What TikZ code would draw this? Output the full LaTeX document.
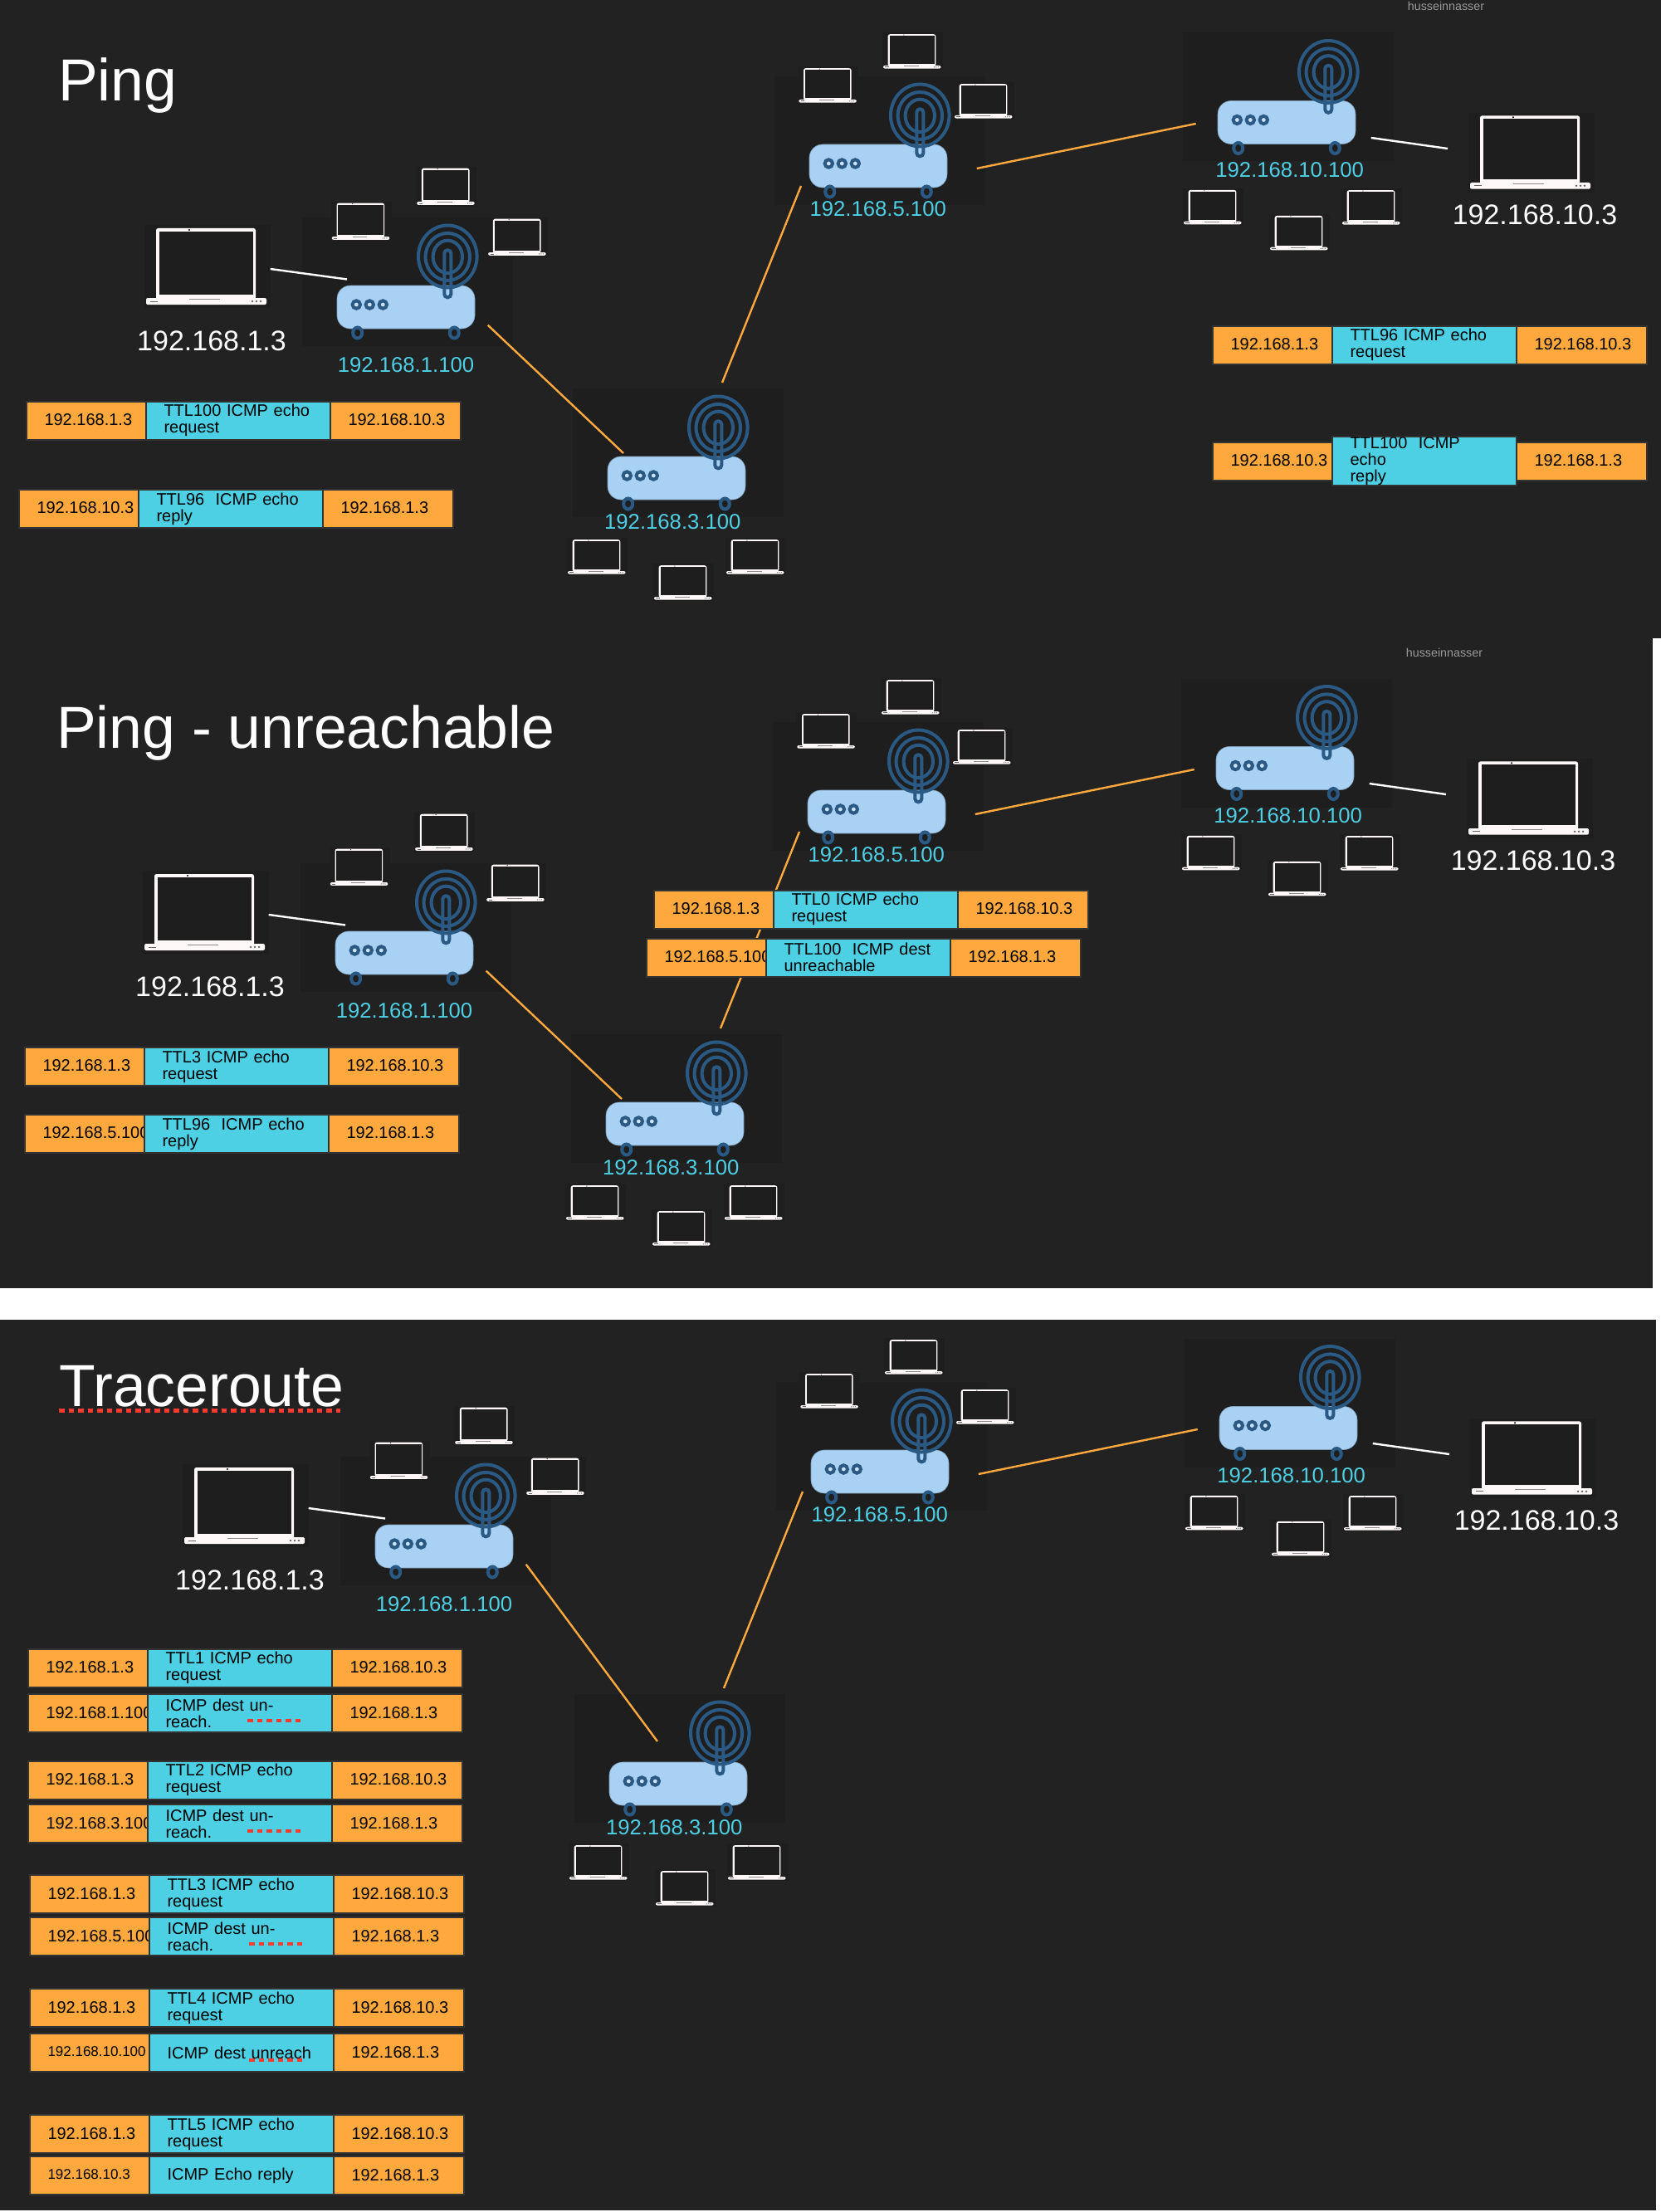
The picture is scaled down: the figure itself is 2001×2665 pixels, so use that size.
\documentclass[tikz,border=0pt]{standalone}
\usepackage{fontspec}
\setmainfont{Liberation Sans}
\definecolor{panelgrey}{HTML}{222222}
\definecolor{icondark}{HTML}{1E1E1E}
\definecolor{routerblue}{HTML}{A8D1F3}
\definecolor{routerline}{HTML}{2A5A84}
\definecolor{pktorange}{HTML}{FFA83E}
\definecolor{pktcyan}{HTML}{4DCFE4}
\definecolor{pktborder}{HTML}{333333}
\definecolor{spellred}{HTML}{FF3B30}
\definecolor{lapwhite}{HTML}{FFF8F8}

\tikzset{
  title/.style={anchor=base west,inner sep=0,text=white,font=\fontsize{71.5}{73}\selectfont},
  hostip/.style={anchor=base,inner sep=0,text=white,font=\fontsize{34}{36}\selectfont},
  routerip/.style={anchor=base,inner sep=0,text=pktcyan,font=\fontsize{25.7}{27}\selectfont},
  mark text/.style={anchor=base,inner sep=0,text=black!40,font=\fontsize{14.3}{16}\selectfont},
  wire/.style={pktorange,line width=2.4pt},
  hostwire/.style={white,line width=2.4pt},
  spell/.style={spellred,line width=4.6pt,dash pattern=on 6.6pt off 4.9pt},
  pktcell/.style={draw=pktborder,line width=2pt,anchor=west,outer sep=0,inner ysep=0,inner xsep=22pt,
    minimum height=46pt,align=left,text=black,font=\fontsize{20}{20}\selectfont},
  pktaddr/.style={pktcell,fill=pktorange,text depth=2pt},
  pktinfo/.style={pktcell,fill=pktcyan,text width=178pt},
  router/.pic={
    \fill[icondark] (-125,-108) rectangle (129,47);
    \node (body) [draw=routerblue!75!black,line width=.6pt,fill=routerblue,rounded corners=16pt,
      minimum width=166pt,minimum height=52pt,inner sep=0] at (0,0) {};
    \foreach \kx in {-59.7,-43.7,-27.7}
      \draw[routerline,line width=4pt,fill=routerblue!60!white] (\kx,-3) circle (4.7);
    \foreach \fx in {-58.3,58.3}
      \draw[routerline,line width=4pt] (\fx,31) ellipse (5.5 and 6.5);
    \draw[routerline,line width=4pt] (50.3,-61) ellipse (35.3 and 37.5);
    \draw[routerline,line width=4pt] (50.3,-60.6) ellipse (26.7 and 28.5);
    \draw[routerline,line width=4pt] (50.3,-60.6) ellipse (17.7 and 19.7);
    \draw[routerline,line width=4pt,rounded corners=3.9pt] (46.3,-68.7) rectangle (54.3,-11.7);
  },
  laptop/.pic={
    \fill[icondark] (-74,-88) rectangle (78,12);
    \fill[lapwhite,rounded corners=2.5pt] (-60,-84) rectangle (60,2);
    \fill[icondark] (-56,-80) rectangle (57,-4);
    \fill[lapwhite,rounded corners=2pt] (-72,0) rectangle (73,8);
    \fill[black] (-20,-82) circle (1.2);
    \draw[black!45,line width=.8pt] (-20,1.5) -- (17,1.5);
    \draw[black!60,line width=.8pt] (-67,4) -- (-58,4);
    \foreach \dotx in {56,61,66}
      \fill[black!60] (\dotx,4) circle (1.4);
  },
  smalllaptop/.style={xscale=.48,yscale=.45},
  nearsmalllaptop/.style={scale=.48},
}

\newcommand{\pkt}[6]{%
  \node (#1l) [pktaddr,text width=100pt] at (#2-.5,#3) {#4};
  \node (#1m) [pktinfo] at (#1l.east) {#5};
  \node (#1r) [pktaddr,text width=113pt] at (#1m.east) {#6};
}
\newcommand{\smallip}{\fontsize{17}{18}\selectfont}

\begin{document}
\begin{tikzpicture}[x=1pt,y=-1pt]
  \fill[white] (0,0) rectangle (2001,2665);
  \fill[panelgrey] (0,0) rectangle (2001,769);
  \fill[panelgrey] (0,769) rectangle (1991,1552);
  \fill[panelgrey] (0,1590) rectangle (1995,2663);

  % the same four routers in each panel
  \foreach \p/\dx/\dy/\hx/\hy/\ex/\ey in {a/0/0/0/0/751/546,b/-2/778/-2/778/749/1324,c/2/1573/46/1493/792/2098} {
    \coordinate (\p r3nw) at (\ex,\ey);
    \begin{scope}[shift={(\dx,\dy)}]
      \pic (\p r3) at (815,576) {router};
      \pic (\p r5) at (1058,200) {router};
      \pic (\p r10) at (1550,147.5) {router};
      \foreach \n/\lx/\ly in {a/718.5/688,b/822.5/719,c/909.5/688}
        \pic[smalllaptop] (\p r3\n) at (\lx,\ly) {laptop};
      \foreach \n/\lx/\ly in {a/996.8/120,b/1098.5/79,c/1184.5/139}
        \pic[smalllaptop] (\p r5\n) at (\lx,\ly) {laptop};
      \foreach \n/\lx/\ly in {a/1460.5/266.7,b/1564.5/297.7,c/1651.5/267}
        \pic[smalllaptop] (\p r10\n) at (\lx,\ly) {laptop};
      \pic[yscale=.96] (\p far) at (1843,220) {laptop};

      \node (\p r3ip) [routerip] at (810.3,637) {192.168.3.100};
      \node (\p r5ip) [routerip] at (1057.7,260.5) {192.168.5.100};
      \node (\p r10ip) [routerip] at (1553.7,213.5) {192.168.10.100};
      \node (\p farip) [hostip] at (1849,270) {192.168.10.3};

      \coordinate (\p r3ne) at (870,461);
      \coordinate (\p r5sw) at (965,224);
      \coordinate (\p r5e) at (1176.7,203);
      \coordinate (\p r10w) at (1440.7,149);
      \coordinate (\p r10e) at (1651.7,166);
      \coordinate (\p farw) at (1744,179);
    \end{scope}
    \begin{scope}[shift={(\hx,\hy)}]
      \pic (\p r1) at (489,370) {router};
      \foreach \n/\lx/\ly in {a/434.3/285,b/536.7/243,c/622.7/304}
        \pic[nearsmalllaptop] (\p r1\n) at (\lx,\ly) {laptop};
      \pic (\p near) at (248,359) {laptop};
      \node (\p r1ip) [routerip] at (489,448) {192.168.1.100};
      \node (\p nearip) [hostip] at (255,422) {192.168.1.3};
      \coordinate (\p neare) at (325.7,324);
      \coordinate (\p r1w) at (418,336.5);
      \coordinate (\p r1se) at (587.7,391.7);
    \end{scope}
    \draw[hostwire] (\p neare) -- (\p r1w);
    \draw[wire] (\p r1se) -- (\p r3nw);
    \draw[wire] (\p r3ne) -- (\p r5sw);
    \draw[wire] (\p r5e) -- (\p r10w);
    \draw[hostwire] (\p r10e) -- (\p farw);
  }

  \node (pingtitle) [title] at (70,122) {Ping};
  \node (unreachtitle) [title] at (68,901) {Ping - unreachable};
  \node (tracetitle) [title] at (71,1694) {Traceroute};
  \coordinate (traceula) at (71,1699);
  \coordinate (traceulb) at (410,1699);
  \draw[spell,line width=5pt] (traceula) -- (traceulb);

  \node (marka) [mark text] at (1742,13) {husseinnasser};
  \node (markb) [mark text] at (1740,791) {husseinnasser};

  % first panel
  \pkt{pa}{32}{506.5}{192.168.1.3}{TTL100 ICMP echo\\request}{192.168.10.3}
  \pkt{pb}{23}{613}{192.168.10.3}{TTL96\ \ ICMP echo\\reply}{192.168.1.3}
  \pkt{pc}{1461}{415.5}{192.168.1.3}{TTL96 ICMP echo\\request}{192.168.10.3}
  \pkt{pd}{1461}{555.5}{192.168.10.3}{TTL100\ \ ICMP echo\\reply}{192.168.1.3}

  % second panel
  \pkt{ua}{788}{1095.5}{192.168.1.3}{TTL0 ICMP echo\\request}{192.168.10.3}
  \pkt{ub}{779}{1153.5}{192.168.5.100}{TTL100\ \ ICMP dest\\unreachable}{192.168.1.3}
  \pkt{uc}{30}{1285}{192.168.1.3}{TTL3 ICMP echo\\request}{192.168.10.3}
  \pkt{ud}{30}{1366}{192.168.5.100}{TTL96\ \ ICMP echo\\reply}{192.168.1.3}

  % third panel
  \pkt{ta}{34}{2009.5}{192.168.1.3}{TTL1 ICMP echo\\request}{192.168.10.3}
  \pkt{tb}{34}{2064}{192.168.1.100}{ICMP dest unreach.}{192.168.1.3}
  \pkt{tc}{34}{2144.5}{192.168.1.3}{TTL2 ICMP echo\\request}{192.168.10.3}
  \pkt{td}{34}{2197}{192.168.3.100}{ICMP dest unreach.}{192.168.1.3}
  \pkt{te}{36}{2282}{192.168.1.3}{TTL3 ICMP echo\\request}{192.168.10.3}
  \pkt{tf}{36}{2333}{192.168.5.100}{ICMP dest unreach.}{192.168.1.3}
  \pkt{tg}{36}{2419}{192.168.1.3}{TTL4 ICMP echo\\request}{192.168.10.3}
  \pkt{th}{36}{2473}{\smallip 192.168.10.100}{ICMP dest unreach}{192.168.1.3}
  \pkt{ti}{36}{2571}{192.168.1.3}{TTL5 ICMP echo\\request}{192.168.10.3}
  \pkt{tj}{36}{2621}{\smallip 192.168.10.3}{ICMP Echo reply}{192.168.1.3}

  \foreach \row in {tb,td,tf,th}
    \draw[spell] ([shift={(120.5,9)}]\row m.west) -- ++(65,0);
\end{tikzpicture}
\end{document}
